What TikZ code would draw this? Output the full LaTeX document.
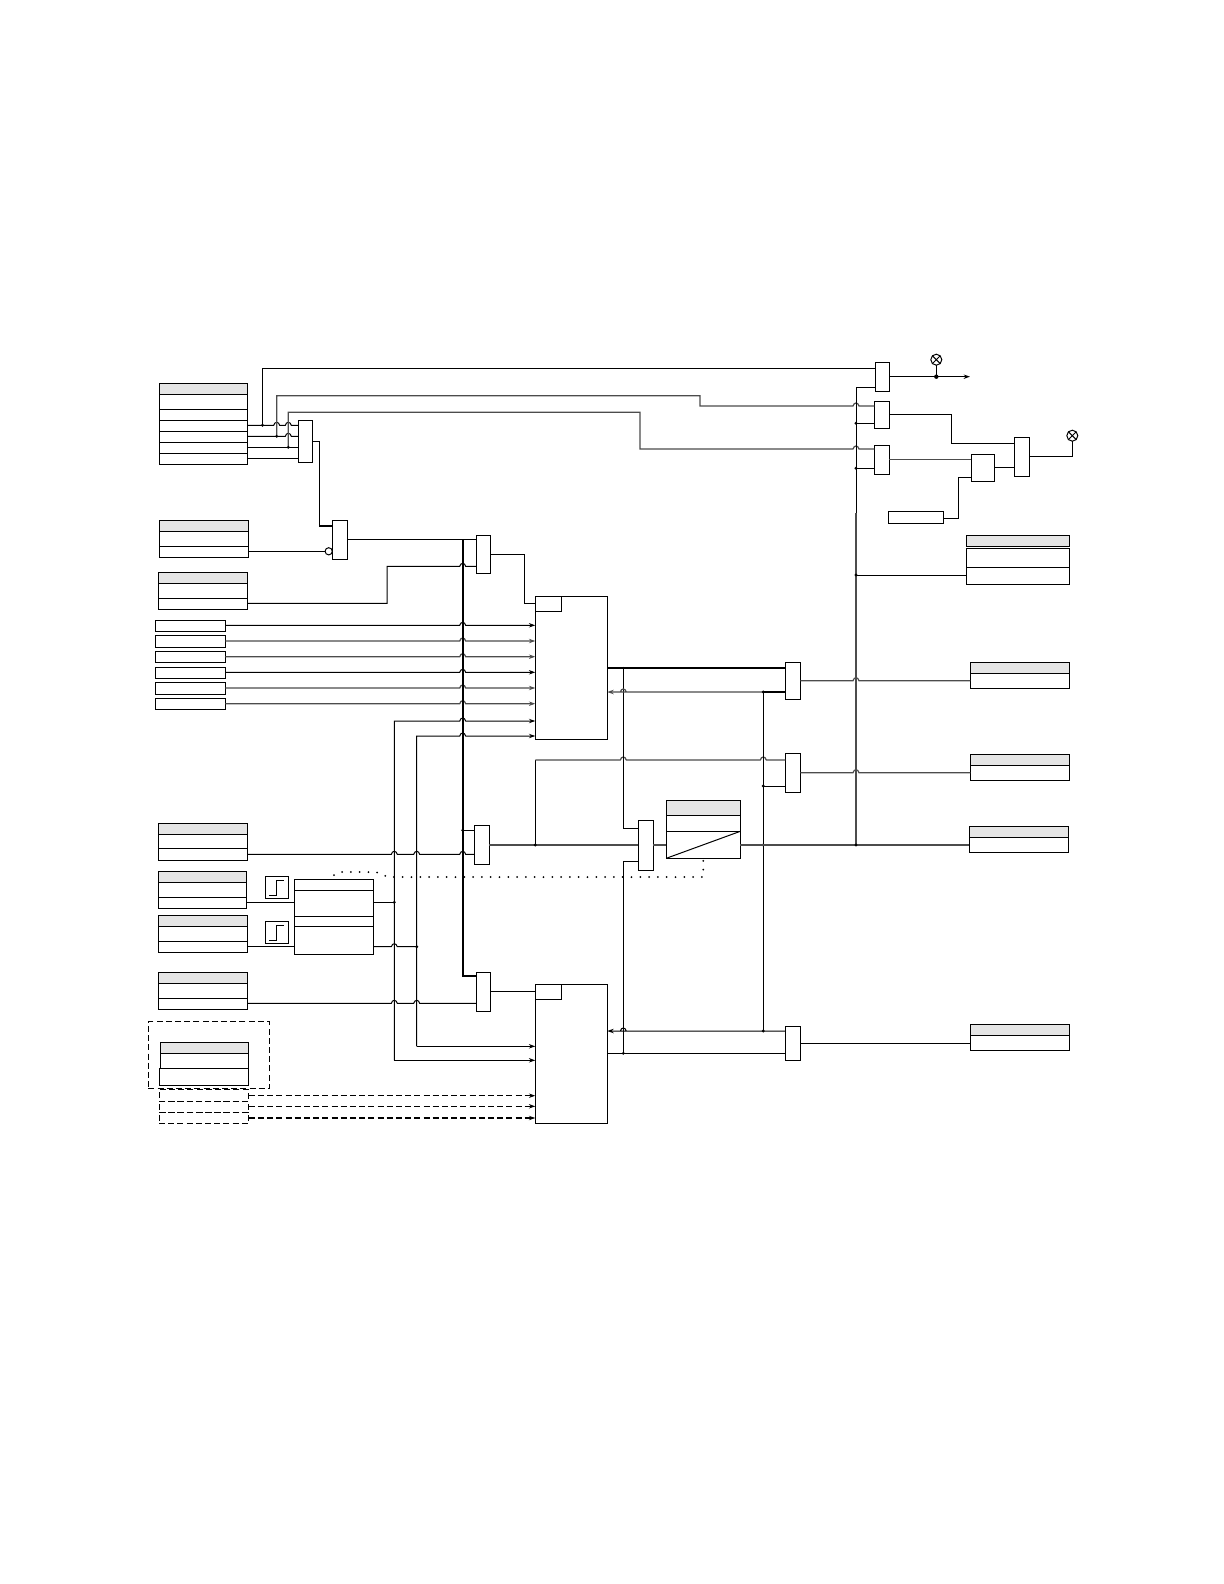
\documentclass[tikz,border=0pt]{standalone}
\usetikzlibrary{arrows.meta}
\definecolor{hdr}{gray}{0.9}
\definecolor{gl}{gray}{0.3}
\tikzset{
  x=0.5pt,y=-0.5pt,
  box/.style={draw=black,fill=white,line width=0.5pt,rectangle,inner sep=0pt,outer sep=0pt},
  hbox/.style={box,fill=hdr},
  dbox/.style={box,dashed,dash pattern=on 3pt off 1.6pt,fill=none},
  wire/.style={draw=black,line width=0.5pt},
  gwire/.style={draw=gl,line width=0.6pt},
  bus/.style={draw=black,line width=1.05pt},
  dwire/.style={draw=black,line width=0.6pt,dash pattern=on 3pt off 1.6pt},
  dotwire/.style={draw=black,line width=1pt,line cap=round,dash pattern=on 0pt off 4.4pt},
  tip/.style={-{Stealth[length=3.2pt,width=2.2pt]}},
  lampn/.style={draw=black,fill=white,circle,line width=0.5pt,minimum size=5.5pt,inner sep=0pt,outer sep=0pt},
}
\newcommand{\bx}[6][box]{\node[#1,minimum width={(#5-#3)*0.5pt},minimum height={(#6-#4)*0.5pt}] (#2) at ({(#3+#5)/2},{(#4+#6)/2}) {};}
\newcommand{\jp}[2]{-- ({#1-3},#2) .. controls ({#1-2},{#2-4}) and ({#1+2},{#2-4}) .. ({#1+3},#2)}
\newcommand{\jd}[2]{\fill[black] (#1,#2) circle[radius=1.6];}
\newcommand{\tfour}[7]{\bx[hbox]{#1h}{#2}{#4}{#3}{#5}\bx{#1a}{#2}{#5}{#3}{#6}\bx{#1b}{#2}{#6}{#3}{#7}}
\newcommand{\tthree}[6]{\bx[hbox]{#1h}{#2}{#4}{#3}{#5}\bx{#1a}{#2}{#5}{#3}{#6}}
\newcommand{\stepic}[5]{\bx{#1}{#2}{#3}{#4}{#5}\draw[wire] ({#2+3.5},{#5-3}) -- ({#2+11.5},{#5-3}) -- ({#2+11.5},{#3+4}) -- ({#4-4},{#3+4});}
\begin{document}
\begin{tikzpicture}
\useasboundingbox (0,0) rectangle (1224,1584);
\coordinate (tl1) at (262.5,368.3);
\coordinate (tl2) at (276.7,395.7);
\coordinate (tl3) at (288.3,412.3);
% blocks
\bx[hbox]{tAh}{159.3}{383.3}{247.3}{394.3}
\bx{tAa}{159.3}{394.3}{247.3}{409.3}
\bx{tAb}{159.3}{409.3}{247.3}{420.3}
\bx{tAc}{159.3}{420.3}{247.3}{431.3}
\bx{tAd}{159.3}{431.3}{247.3}{442.3}
\bx{tAe}{159.3}{442.3}{247.3}{453.3}
\bx{tAf}{159.3}{453.3}{247.3}{464.3}
\tfour{tB}{159.3}{248.3}{520.3}{531.3}{546.3}{557.3}
\tfour{tC}{158.3}{247.3}{572.3}{583.3}{598.3}{609.3}
\bx{i1}{155.3}{620.3}{225.3}{631.3}
\bx{i2}{155.3}{635.3}{225.3}{647.3}
\bx{i3}{155.3}{651.3}{225.3}{662.3}
\bx{i4}{155.3}{667.3}{225.3}{678.3}
\bx{i5}{155.3}{682.3}{225.3}{694.3}
\bx{i6}{155.3}{698.3}{225.3}{709.3}
\tfour{tD}{158.3}{247.3}{823.3}{834.3}{848.3}{860.3}
\tfour{tJ}{158.3}{246.7}{871.3}{882.3}{897.3}{908.3}
\tfour{tK}{158.3}{247.3}{915.3}{926.3}{941.3}{952.3}
\tfour{tM}{158.3}{247.3}{972.3}{983.3}{998.3}{1009.3}
\bx[dbox]{dout}{148.3}{1021.7}{269.3}{1088.3}
\bx[hbox]{tOh}{160.3}{1042.3}{248.3}{1053.3}
\bx{tOa}{160.3}{1053.3}{248.3}{1068.3}
\bx{tOb}{159.3}{1068.3}{248.3}{1085.3}
\bx[dbox]{dA}{159}{1089.7}{248.7}{1101}
\bx[dbox]{dB}{159}{1101}{248.7}{1112}
\bx[dbox]{dC}{159}{1112}{248.7}{1123.3}
\stepic{sA}{265.3}{876}{288.3}{898.7}
\stepic{sB}{265.3}{921.3}{288.3}{943.3}
\bx{lA}{294.3}{879.3}{373.3}{890.3}
\bx{lB}{294.3}{890.3}{373.3}{916.3}
\bx{lC}{294.3}{916.3}{373.3}{926.3}
\bx{lD}{294.3}{926.3}{373.3}{954.3}
\bx{m1}{298.3}{420.3}{312.3}{462.3}
\bx{m4}{332.3}{520.3}{347.3}{559.3}
\bx{m5}{476.3}{535.3}{490.3}{573.3}
\bx{m6}{474.3}{825.3}{489.3}{864.3}
\bx{m7}{638.3}{820}{653.3}{870.3}
\bx{m8}{476.3}{972.3}{490.3}{1011.3}
\bx{m9}{785.3}{662.3}{800.3}{699}
\bx{m10}{785.3}{753.3}{800.3}{792.3}
\bx{m12}{785.3}{1026.3}{800.3}{1060.3}
\bx{mT1}{875.3}{362.3}{889.3}{391.3}
\bx{mT2}{874.3}{401.3}{889.3}{428.3}
\bx{mT3}{874.3}{445.3}{889.3}{474.3}
\bx{mT4}{1014.3}{437.3}{1029.3}{476.3}
\bx{cmp}{971.3}{454.3}{994.3}{481.3}
\bx{smb}{888.3}{511.3}{943.3}{523.3}
\bx{bA}{535.3}{596}{607.3}{739.3}
\bx{bAs}{535.3}{596}{561.3}{611.3}
\bx{bB}{535.3}{984.3}{607.3}{1123.3}
\bx{bBs}{535.3}{984.3}{561.3}{999.3}
\bx[hbox]{tEh}{666.3}{800.3}{740.3}{815.3}
\bx{tEa}{666.3}{815.3}{740.3}{831.3}
\bx{tEb}{666.3}{831.3}{740.3}{858.3}
\draw[wire] (tEb.south west) -- (tEb.north east);
\bx[hbox]{tIh}{966.3}{535.3}{1069.3}{546.3}
\bx{tIa}{966.3}{548.3}{1069.3}{567.3}
\bx{tIb}{966.3}{567.3}{1069.3}{584.3}
\tthree{tF}{970.3}{1069.7}{662.3}{673.3}{688.3}
\tthree{tG}{970.3}{1069.7}{754.3}{765.3}{780.3}
\tthree{tH}{969.3}{1068.3}{826.3}{837.3}{852.3}
\tthree{tN}{970.3}{1069.7}{1024.3}{1035.3}{1050.3}
\node[lampn] (lamp1) at (936.3,359.7) {};
\draw[wire] (lamp1.45) -- (lamp1.225) (lamp1.135) -- (lamp1.315);
\node[lampn] (lamp2) at (1072.3,435.7) {};
\draw[wire] (lamp2.45) -- (lamp2.225) (lamp2.135) -- (lamp2.315);
\node[draw=black,fill=white,circle,line width=0.5pt,minimum size=3.6pt,inner sep=0pt,outer sep=0pt] (inv) at (328.7,551.3) {};
% top-left wiring
\draw[wire] (tAc.east |- 0,425.3) -- (262.5,425.3) \jp{276.7}{425.3} \jp{288.3}{425.3} -- (m1.west |- 0,425.3);
\draw[wire] (tAd.east |- 0,436.3) -- (276.7,436.3) \jp{288.3}{436.3} -- (m1.west |- 0,436.3);
\draw[wire] (tAe.east |- 0,447.3) -- (m1.west |- 0,447.3);
\draw[wire] (tAf.east |- 0,458.3) -- (m1.west |- 0,458.3);
\draw[wire] (262.5,425.3) -- (tl1) -- (mT1.west |- tl1);
\draw[gwire] (276.7,436.3) -- (tl2) -- (700,395.7) -- (700,406) \jp{856}{406} -- (mT2.west |- 0,406);
\draw[gwire] (288.3,447.3) -- (tl3) -- (640,412.3) -- (640,449) \jp{856}{449} -- (mT3.west |- 0,449);
\jd{262.5}{425.3}\jd{276.7}{436.3}\jd{288.3}{447.3}
\draw[wire] (m1.east |- 0,441) -- (319.3,441) -- (319.3,525.7);
\draw[bus] (319.3,525.7) -- (m4.west |- 0,525.7);
\draw[wire] (tBb.east |- inv) -- (inv);
\draw[wire] (m4.east |- 0,539.3) -- (m5.west |- 0,539.3);
\draw[wire] (tCb.east |- 0,603.3) -- (387,603.3) -- (387,566.3) \jp{462.7}{566.3} -- (m5.west |- 0,566.3);
\draw[wire] (m5.east |- 0,554.3) -- (524.3,554.3) -- (524.3,603.3) -- (bAs.west |- 0,603.3);
% input lines
\draw[wire,tip] (i1.east |- 0,625.3) \jp{462.7}{625.3} -- (bA.west |- 0,625.3);
\draw[gwire,tip] (i2.east |- 0,641) \jp{462.7}{641} -- (bA.west |- 0,641);
\draw[gwire,tip] (i3.east |- 0,656.7) \jp{462.7}{656.7} -- (bA.west |- 0,656.7);
\draw[wire,tip] (i4.east |- 0,672.3) \jp{462.7}{672.3} -- (bA.west |- 0,672.3);
\draw[gwire,tip] (i5.east |- 0,688) \jp{462.7}{688} -- (bA.west |- 0,688);
\draw[gwire,tip] (i6.east |- 0,703.7) \jp{462.7}{703.7} -- (bA.west |- 0,703.7);
\draw[wire,tip] (394.3,1060.3) -- (394.3,721) \jp{462.7}{721} -- (bA.west |- 0,721);
\draw[wire,tip] (416.7,1046.3) -- (416.7,736) \jp{462.7}{736} -- (bA.west |- 0,736);
\draw[wire,tip] (394.3,1060.3) -- (bB.west |- 0,1060.3);
\draw[wire,tip] (416.7,1046.3) -- (bB.west |- 0,1046.3);
% thick bus
\draw[bus] (462.7,539.3) -- (462.7,976.3) -- (m8.west |- 0,976.3);
\draw[wire] (462.7,830.3) -- (m6.west |- 0,830.3);
\jd{462.7}{830.3}
\draw[wire] (tDb.east |- 0,854.3) \jp{394.3}{854.3} \jp{416.7}{854.3} \jp{462.7}{854.3} -- (m6.west |- 0,854.3);
\draw[wire] (tJb.east |- 0,902.3) -- (lB.west |- 0,902.3);
\draw[wire] (tKb.east |- 0,946.7) -- (lD.west |- 0,946.7);
\draw[wire] (lB.east |- 0,902.3) -- (394.3,902.3);
\draw[wire] (lD.east |- 0,946.7) \jp{394.3}{946.7} -- (416.7,946.7);
\jd{394.3}{902.3}\jd{416.7}{946.7}
\draw[wire] (tMb.east |- 0,1003.3) \jp{394.3}{1003.3} \jp{416.7}{1003.3} -- (m8.west |- 0,1003.3);
\draw[wire] (m8.east |- 0,991.3) -- (bBs.west |- 0,991.3);
% dotted
\draw[dotwire] (334,875) -- (340,872) -- (376,872) -- (388,877) -- (703.3,877) -- (tEb.south);
% dashed outputs
\draw[dwire,tip] (dA.east |- 0,1095.7) -- (bB.west |- 0,1095.7);
\draw[dwire,tip] (dB.east |- 0,1106.3) -- (bB.west |- 0,1106.3);
\draw[dwire,tip] (dC.east |- 0,1118) -- (bB.west |- 0,1118);
% middle
\draw[gwire] (m6.east |- 0,845) -- (m7.west |- 0,845);
\draw[gwire] (m7.east |- 0,845) -- (tEb.west |- 0,845);
\draw[wire] (535.3,845) -- (535.3,760);
\draw[gwire] (535.3,760) \jp{623.3}{760} \jp{763.3}{760} -- (m10.west |- 0,760);
\jd{535.3}{845}
\draw[bus] (bA.east |- 0,668) -- (m9.west |- 0,668);
\draw[wire] (623.3,666.7) -- (623.3,828.3) -- (m7.west |- 0,828.3);
\draw[wire] (m7.west |- 0,861.3) -- (623.3,861.3) -- (623.3,1053.3);
\jd{623.3}{1053.3}
\draw[bus] (m9.west |- 0,692) -- (763.3,692);
\draw[gwire,tip] (763.3,692) \jp{623.3}{692} -- (bA.east |- 0,692);
\draw[wire] (763.3,692) -- (763.3,1031);
\draw[wire] (763.3,786) -- (m10.west |- 0,786);
\jd{763.3}{692}\jd{763.3}{786}\jd{763.3}{845}\jd{763.3}{1031}
\draw[wire,tip] (m12.west |- 0,1031) -- (763.3,1031) \jp{623.3}{1031} -- (bB.east |- 0,1031);
\draw[wire] (m12.west |- 0,1053.3) -- (bB.east |- 0,1053.3);
\draw[gwire] (m9.east |- 0,680.7) \jp{856}{680.7} -- (tFa.west |- 0,680.7);
\draw[gwire] (m10.east |- 0,772.7) \jp{856}{772.7} -- (tGa.west |- 0,772.7);
\draw[gwire] (tEb.east |- 0,845) -- (tHa.west |- 0,845);
\draw[wire] (m12.east |- 0,1043.3) -- (tNa.west |- 0,1043.3);
% right bus
\draw[wire] (mT1.west |- 0,387.3) -- (856,387.3) -- (856,513);
\draw[gwire] (856,513) -- (856,845);
\draw[wire] (856,423.3) -- (mT2.west |- 0,423.3);
\draw[wire] (856,468.3) -- (mT3.west |- 0,468.3);
\draw[wire] (856,575) -- (tIb.west |- 0,575);
\jd{856}{423.3}\jd{856}{468.3}\jd{856}{575}\jd{856}{845}
% top right
\draw[wire,tip] (mT1.east |- 0,376.7) -- (970,376.7);
\draw[wire] (lamp1) -- (936.3,376.7);
\fill[black] (936.3,376.7) circle[radius=2.2];
\draw[wire] (mT2.east |- 0,414.3) -- (951.3,414.3) -- (951.3,443.3) -- (mT4.west |- 0,443.3);
\draw[gwire] (mT3.east |- 0,459.3) -- (cmp.west |- 0,459.3);
\draw[wire] (cmp.east |- 0,467.3) -- (mT4.west |- 0,467.3);
\draw[wire] (smb.east |- 0,518.3) -- (958.3,518.3) -- (958.3,477) -- (cmp.west |- 0,477);
\draw[wire] (mT4.east |- 0,456.3) -- (1072.3,456.3) -- (lamp2);
\end{tikzpicture}
\end{document}
